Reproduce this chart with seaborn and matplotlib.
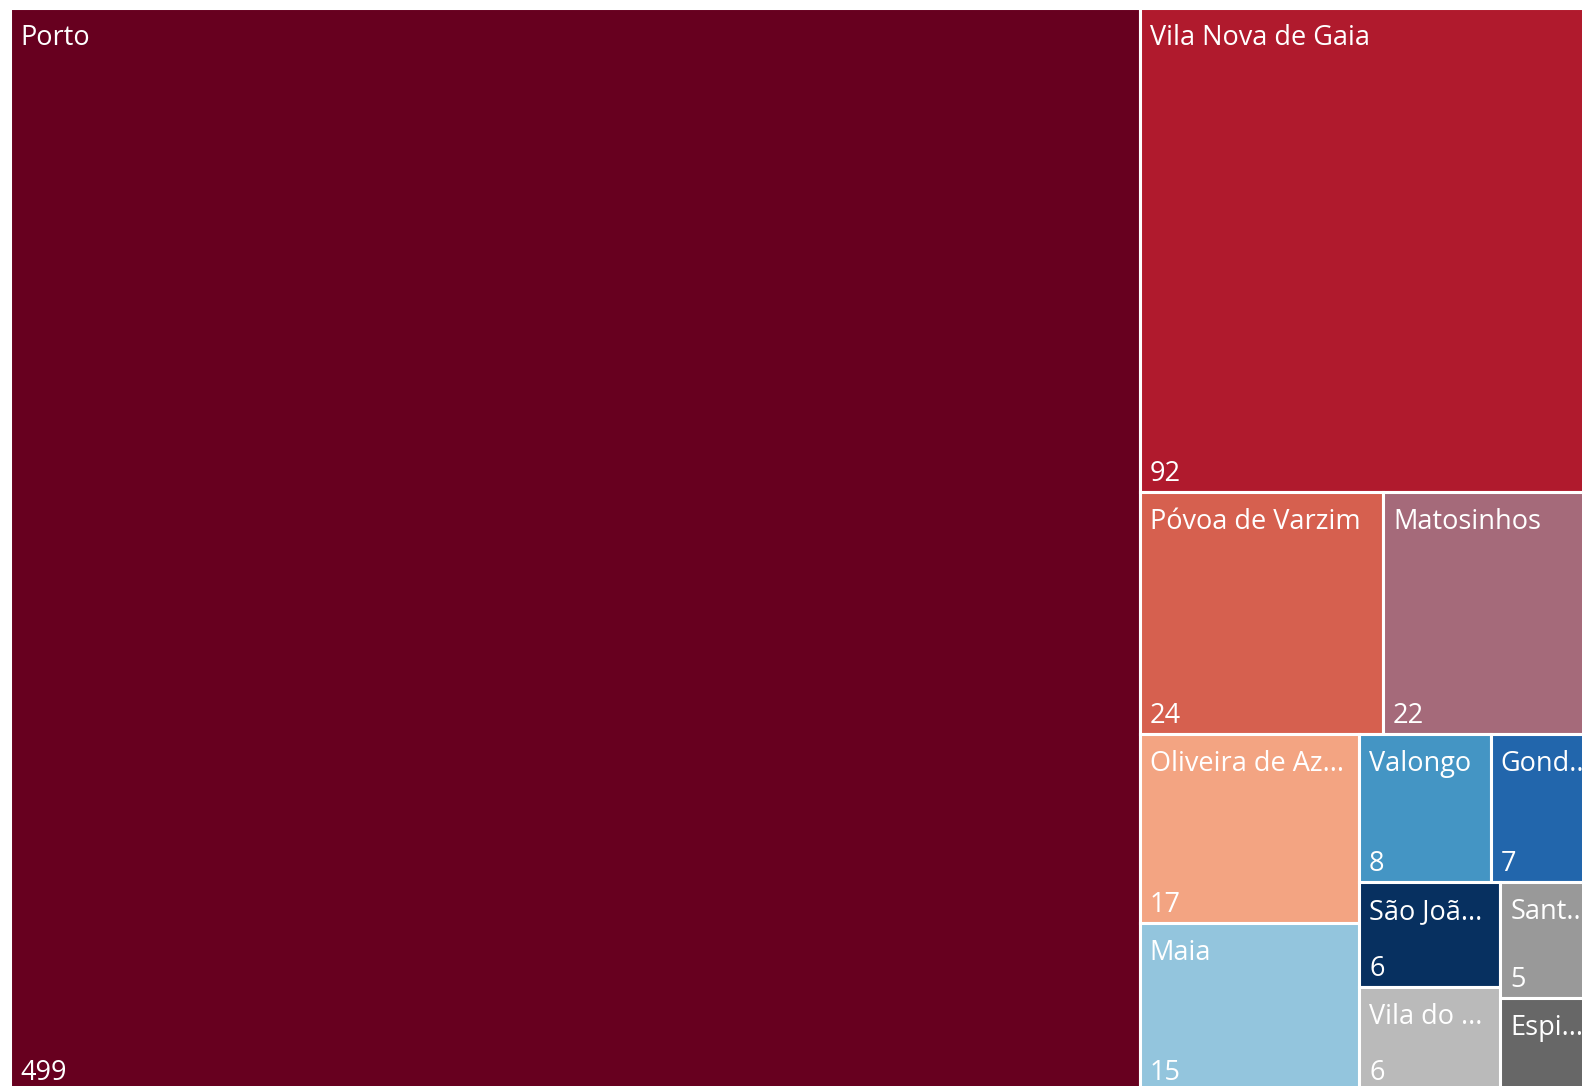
import numpy as np
import seaborn as sns
from matplotlib import pyplot as plt

# municipalities and counts, largest first
names = ["Porto", "Vila Nova de Gaia", "Póvoa de Varzim", "Matosinhos",
         "Oliveira de Azeméis", "Maia", "Valongo", "Gondomar",
         "São João da Madeira", "Vila do Conde", "Santo Tirso", "Espinho"]
counts = [499, 92, 24, 22, 17, 15, 8, 7, 6, 6, 5, 4]
colors = ["#67001f", "#b01a2d", "#d6604f", "#a56a7a", "#f3a482", "#93c5dd",
          "#4495c4", "#2266ac", "#073060", "#bababa", "#999999", "#676767"]


def worst(row, side):
    s = sum(row)
    return max(max(side**2 * v / s**2, s**2 / (side**2 * v)) for v in row)


def squarify(values, x, y, w, h):
    vals = list(np.asarray(values, float) * w * h / sum(values))
    rects = []
    while vals:
        side = min(w, h)
        row = [vals[0]]
        i = 1
        while i < len(vals) and worst(row + [vals[i]], side) <= worst(row, side):
            row.append(vals[i])
            i += 1
        vals = vals[i:]
        s = sum(row)
        if w >= h:
            cw = s / h
            yy = y
            for v in row:
                rects.append((x, yy, cw, v / cw))
                yy += v / cw
            x += cw
            w -= cw
        else:
            rh = s / w
            xx = x
            for v in row:
                rects.append((xx, y, v / rh, rh))
                xx += v / rh
            y += rh
            h -= rh
    return rects


sns.set_theme(style="white")
plt.rcParams["font.family"] = ["Open Sans", "DejaVu Sans"]

W, H = 1596, 1083  # plot area in pixels (it runs past the figure edge)
fig = plt.figure(figsize=(15.82, 10.86), dpi=100)
ax = fig.add_axes([10 / 1582, (1086 - 8 - H) / 1086, W / 1582, H / 1086])

rects = np.array(squarify(counts, 0, 0, W, H))
ax.bar(rects[:, 0], rects[:, 3], width=rects[:, 2], bottom=rects[:, 1],
       align="edge", color=colors, edgecolor="white", linewidth=2.2)
ax.set(xlim=(0, W), ylim=(H, 0), xticks=[], yticks=[])
ax.spines[:].set_visible(False)

fig.canvas.draw()
rend = fig.canvas.get_renderer()
pad = 10
for (x, y, w, h), name, n in zip(rects, names, counts):
    t = ax.text(x + pad, y + 16, name, color="white", fontsize=19.5, va="top", ha="left")
    label = name
    while t.get_window_extent(rend).width > w - 2 * pad and len(label) > 1:
        label = label[:-1]
        t.set_text(label + "...")
    # no room for the value in very short tiles
    if h > 100:
        ax.text(x + pad, y + h - 11, str(n), color="white", fontsize=19.5, va="baseline", ha="left")

fig.savefig("out.png", dpi=100)
